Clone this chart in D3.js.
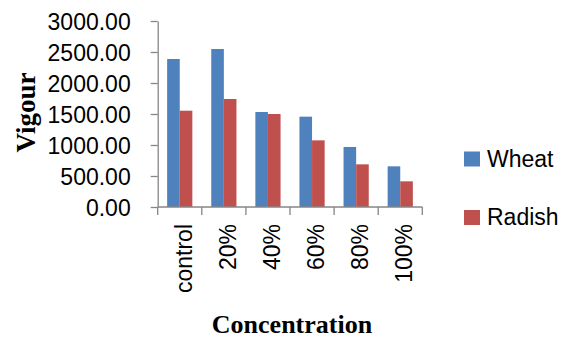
<!DOCTYPE html>
<html>
<head>
<meta charset="utf-8">
<script src="https://cdn.jsdelivr.net/npm/d3@7/dist/d3.min.js"></script>
<style>
  html, body { margin: 0; padding: 0; background: #fff; }
  svg { display: block; }
</style>
</head>
<body>
<svg id="chart" width="561" height="339"></svg>
<script>
// Seedling vigour by extract concentration
const categories = ["control", "20%", "40%", "60%", "80%", "100%"];
const seriesNames = ["Wheat", "Radish"];
const wheat = [2387, 2548, 1532, 1457, 968, 656];
const radish = [1553, 1742, 1500, 1075, 688, 414];
const yTicks = [0, 500, 1000, 1500, 2000, 2500, 3000];
const colors = ["#4F81BD", "#C0504D"];

const svg = d3.select("#chart");
const axisColor = "#868686";
const sans = "'Liberation Sans', Arial, sans-serif";
const serif = "'Liberation Serif', 'Times New Roman', serif";

const plotLeft = 157.7, plotRight = 422.3, plotTop = 21, plotBottom = 207;

const x = d3.scaleBand().domain(categories).range([plotLeft, plotRight]).padding(0);
const xs = d3.scaleBand().domain(seriesNames).range([0, x.bandwidth()])
  .paddingInner(0).paddingOuter(0.75);
const y = d3.scaleLinear().domain([0, 3000]).range([plotBottom, plotTop]);

const rows = categories.map((c, i) => ({ c, values: [wheat[i], radish[i]] }));

// bars
const groups = svg.append("g").selectAll("g").data(rows).join("g")
  .attr("transform", d => `translate(${x(d.c)},0)`);
groups.selectAll("rect")
  .data(d => d.values.map((v, j) => ({ name: seriesNames[j], v, j })))
  .join("rect")
  .attr("x", d => xs(d.name))
  .attr("y", d => y(d.v))
  .attr("width", xs.bandwidth())
  .attr("height", d => y(0) - y(d.v))
  .attr("fill", d => colors[d.j]);

// y axis
const yAxis = svg.append("g").attr("transform", `translate(${plotLeft},0)`)
  .call(d3.axisLeft(y).tickValues(yTicks).tickFormat(d3.format(".2f")).tickSizeOuter(0).tickSizeInner(7).tickPadding(20));
yAxis.select(".domain").attr("stroke", axisColor).attr("stroke-width", 1.3);
yAxis.selectAll(".tick line").attr("stroke", axisColor).attr("stroke-width", 1.3);
yAxis.selectAll(".tick text")
  .attr("font-family", sans).attr("font-size", 23).attr("fill", "#000")
  .attr("dy", "0.36em");

// x axis: ticks sit at category boundaries
const xAxisG = svg.append("g").attr("transform", `translate(0,${plotBottom})`);
xAxisG.append("line").attr("x1", plotLeft).attr("x2", plotRight)
  .attr("stroke", axisColor).attr("stroke-width", 1.3);
const bounds = categories.map(c => x(c)).concat([x(categories[categories.length - 1]) + x.bandwidth()]);
xAxisG.selectAll("line.tk").data(bounds).join("line").attr("class", "tk")
  .attr("x1", d => d).attr("x2", d => d).attr("y1", 0).attr("y2", 8)
  .attr("stroke", axisColor).attr("stroke-width", 1.3);
xAxisG.selectAll("text").data(categories).join("text")
  .attr("transform", d => `translate(${x(d) + x.bandwidth() / 2 + 12},${224 - plotBottom}) rotate(-90)`)
  .attr("text-anchor", "end")
  .attr("font-family", sans).attr("font-size", 23).attr("fill", "#000")
  .text(d => d);

// axis titles
svg.append("text")
  .attr("transform", "translate(35,112.5) rotate(-90)")
  .attr("text-anchor", "middle")
  .attr("font-family", serif).attr("font-weight", "bold").attr("font-size", 27)
  .text("Vigour");
svg.append("text")
  .attr("x", 292).attr("y", 333)
  .attr("text-anchor", "middle")
  .attr("font-family", serif).attr("font-weight", "bold").attr("font-size", 26)
  .text("Concentration");

// legend
const legend = svg.append("g").selectAll("g").data(seriesNames).join("g")
  .attr("transform", (d, i) => `translate(464,${151.5 + i * 58.5})`);
legend.append("rect").attr("width", 16).attr("height", 15)
  .attr("fill", (d, i) => colors[i]);
legend.append("text").attr("x", 23).attr("y", 15)
  .attr("font-family", sans).attr("font-size", 23).attr("fill", "#000")
  .text(d => d);
</script>
</body>
</html>
